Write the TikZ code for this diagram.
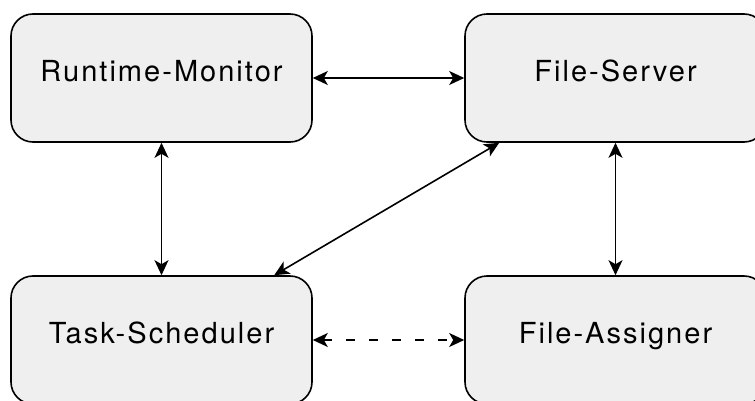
\documentclass[tikz,border=0pt]{standalone}
\usepackage{fontspec}
\setmainfont{TeX Gyre Heros}[LetterSpace=7]
\usetikzlibrary{arrows.meta,calc}
\definecolor{boxfill}{HTML}{EFEFEF}
\tikzset{
  module/.style={draw=black, line width=1.6pt, fill=boxfill, rounded corners=22pt,
    minimum width=301pt, minimum height=128pt, inner sep=0pt,
    font=\fontsize{29}{33}\selectfont, text height=20.5pt, text depth=13pt},
  link/.style={line width=1.6pt, {Stealth[length=15pt,width=14pt,inset=4pt]}-{Stealth[length=15pt,width=14pt,inset=4pt]}},
  dashlink/.style={link, dash pattern=on 9pt off 14pt}
}
\begin{document}
\begin{tikzpicture}[x=1pt,y=-1pt]
  \useasboundingbox (0,0) rectangle (755,401);
  \clip (0,0) rectangle (755,401);
  \node[module] (rm) at (161.5,78) {Runtime-Monitor};
  \node[module] (fs) at (615.5,78) {File-Server};
  \node[module] (ts) at (161.5,340) {Task-Scheduler};
  \node[module] (fa) at (615.5,340) {File-Assigner};
  \draw[link] (rm.east) -- (fs.west);
  \draw[link] (rm.south) -- (ts.north);
  \draw[link] (fs.south) -- (fa.north);
  \draw[link] ([xshift=264pt]ts.north west) -- ([xshift=35pt]fs.south west);
  \draw[dashlink] (ts.east) -- (fa.west);
\end{tikzpicture}
\end{document}
